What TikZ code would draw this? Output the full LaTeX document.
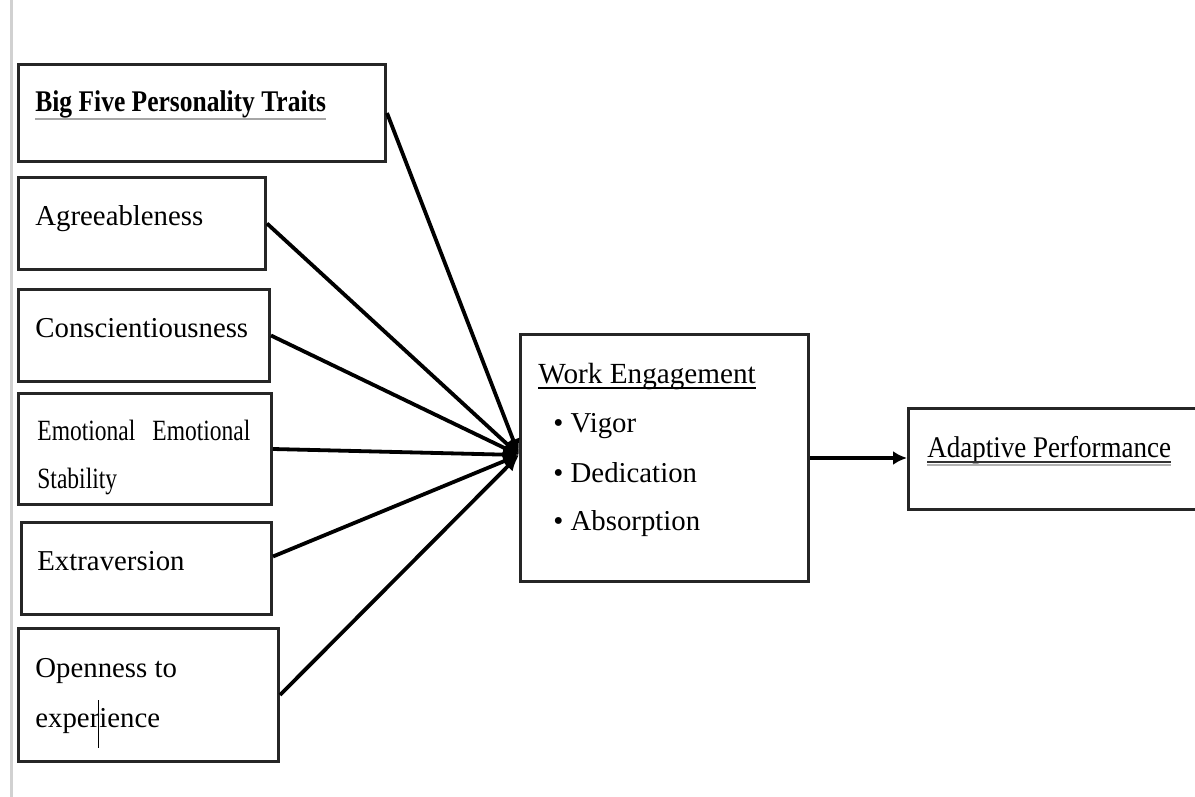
\documentclass[tikz,border=0pt]{standalone}
\usepackage{fontspec}
\setmainfont{Liberation Serif}
\newfontfamily\bigfont[FakeStretch=0.85]{Liberation Serif}
\newfontfamily\emofont[FakeStretch=0.8]{Liberation Serif}
\newfontfamily\apfont[FakeStretch=0.9]{Liberation Serif}
\usetikzlibrary{arrows.meta}
\begin{document}
\begin{tikzpicture}[x=0.5pt,y=-0.5pt,
 box/.style={draw=black!85,line width=1.5pt,anchor=north west,inner sep=0pt,fill=white},
 lbl/.style={anchor=base west,inner sep=0pt,font=\fontsize{14.4}{17}\selectfont},
 conn/.style={line width=1.9pt,-{Latex[length=8pt,width=7pt]}},
 uline/.style={line width=0.6pt},
]
\useasboundingbox (0,0) rectangle (1195,797);
\fill[white] (0,0) rectangle (1195,797);
\draw[black!18,line width=1.5pt] (11,0) -- (11,797);

% boxes
\node[box,minimum width=183.5pt,minimum height=48.5pt] (big) at (17,63) {};
\node[box,minimum width=123.5pt,minimum height=46pt] (agr) at (17,176) {};
\node[box,minimum width=125.5pt,minimum height=46pt] (con) at (17,288) {};
\node[box,minimum width=126.5pt,minimum height=55.5pt] (emo) at (17,392) {};
\node[box,minimum width=125pt,minimum height=46pt] (ext) at (20,521) {};
\node[box,minimum width=130pt,minimum height=66.5pt] (ope) at (17,627) {};
\node[box,minimum width=144pt,minimum height=123.5pt] (we) at (519,333) {};
\node[box,minimum width=146pt,minimum height=50.5pt] (ap) at (907,407) {};

% labels
\node[lbl,font=\bigfont\bfseries\fontsize{15}{17}\selectfont] (tbig) at (35,112) {Big Five Personality Traits};
\draw[uline,black!35,line width=1pt] ([yshift=-3.5pt]tbig.base west) -- ([yshift=-3.5pt]tbig.base east);
\node[lbl] (tagr) at (35,226) {Agreeableness};
\node[lbl] (tcon) at (35,337) {Conscientiousness};
\node[lbl,font=\emofont\fontsize{14.7}{17}\selectfont] (temo1) at (37,440) {Emotional\hspace{8.5pt}Emotional};
\node[lbl,font=\emofont\fontsize{14.7}{17}\selectfont] (temo2) at (37,488) {Stability};
\node[lbl] (text) at (37,570) {Extraversion};
\node[lbl] (tope1) at (35,677) {Openness to};
\node[lbl] (tope2) at (35,727) {experience};
\draw[line width=0.5pt] (98,700) -- (98,748);

\node[lbl,font=\fontsize{14.6}{17}\selectfont] (twe) at (538,383) {Work Engagement};
\draw[uline] ([yshift=-2.5pt]twe.base west) -- ([yshift=-2.5pt]twe.base east);
\node[lbl] (b1) at (553,432) {\textbullet\ Vigor};
\node[lbl] (b2) at (553,482) {\textbullet\ Dedication};
\node[lbl] (b3) at (553,530) {\textbullet\ Absorption};

\node[lbl,font=\apfont\fontsize{15}{17}\selectfont] (tap) at (927,457) {Adaptive Performance};
\draw[uline,black!80] ([yshift=-2.5pt]tap.base west) -- ([yshift=-2.5pt]tap.base east);
\draw[uline,black!30,line width=0.8pt] ([yshift=-4pt]tap.base west) -- ([yshift=-4pt]tap.base east);

% connectors
\coordinate (conv) at (519,455);
\draw[conn] (big.east) -- (conv);
\draw[conn] (agr.east) -- (conv);
\draw[conn] (con.east) -- (conv);
\draw[conn] (emo.east) -- (conv);
\draw[conn] ([yshift=6pt]ext.east) -- (conv);
\draw[conn] (ope.east) -- (conv);
\draw[conn,-{Latex[length=7pt,width=7pt]}] (we.east |- 0,458) -- (ap.west |- 0,458);
\end{tikzpicture}
\end{document}
